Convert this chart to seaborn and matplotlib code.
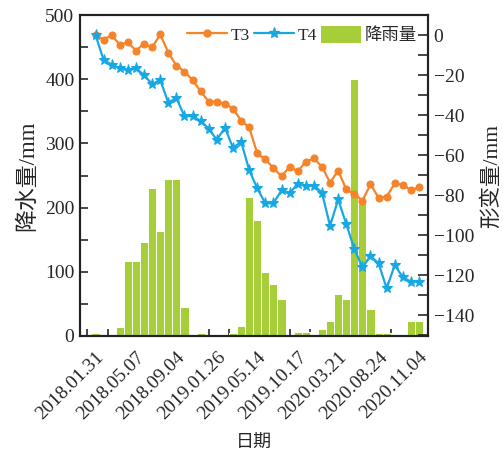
import numpy as np
import pandas as pd
import matplotlib
matplotlib.use("Agg")
import matplotlib.pyplot as plt
from matplotlib.ticker import MultipleLocator
from matplotlib.patches import Patch
from matplotlib.lines import Line2D
import seaborn as sns

# Labelled observation dates (every fifth survey)
tick_dates = ["2018.01.31", "2018.05.07", "2018.09.04", "2019.01.26", "2019.05.14",
              "2019.10.17", "2020.03.21", "2020.08.24", "2020.11.04"]

# Rainfall between surveys (mm)
rainfall = [5, 2, 2, 14, 117, 117, 146, 231, 164, 245, 245, 45,
            0, 5, 2, 1, 0, 4, 16, 216, 180, 100, 81, 57,
            0, 6, 6, 0, 11, 23, 65, 57, 400, 213, 42, 4,
            4, 0, 0, 24, 24]

# Cumulative deformation at monitoring points (mm)
t3 = [0, -2.3, -0.2, -4.8, -3.7, -7.8, -4.3, -6.2, 0.3, -8.8, -15.3,
      -18.3, -22.5, -28.2, -33.3, -33.3, -34.3, -36.8, -42.8, -46.2, -59.2,
      -62.2, -66.5, -70.7, -65.8, -68.2, -63.3, -61.7, -65.8, -73.8, -67.8,
      -77.2, -79.5, -82.8, -74.7, -81.3, -80.8, -74.2, -75.0, -77.5, -76.2]
t4 = [0, -12.5, -14.8, -16.7, -17.5, -16.7, -20.0, -24.6, -22.5, -33.8, -31.5,
      -40.7, -40.5, -43.0, -46.8, -52.5, -46.3, -56.5, -53.3, -67.5, -76.7,
      -84.2, -84.0, -77.7, -79.2, -74.3, -75.3, -75.3, -78.8, -95.5, -82.2,
      -94.5, -107.0, -116.2, -110.5, -114.2, -126.7, -115.0, -121.2, -123.3, -123.3]

n = len(rainfall)
df = pd.DataFrame({"idx": range(n), "rain": rainfall, "T3": t3, "T4": t4})

GREEN = "#A6CE39"
ORANGE = "#F5832A"
BLUE = "#17A8E3"
FS = 14        # tick labels
GFS = 12.5     # legend

sns.set_style("ticks")
plt.rcParams["font.family"] = ["Liberation Serif", "Noto Sans CJK SC"]
plt.rcParams["axes.unicode_minus"] = True

fig = plt.figure(figsize=(5.03, 4.57), dpi=100)
ax = fig.add_axes([80 / 503, 1 - 336 / 457, 348 / 503, 321 / 457])

sns.barplot(data=df, x="idx", y="rain", ax=ax, color=GREEN, saturation=1,
            width=1.0, edgecolor="white", linewidth=0.7)
ax.set_axisbelow(True)
ax.set_ylim(0, 500)
ax.set_xlim(-1.92, 41.11)
ax.yaxis.set_major_locator(MultipleLocator(100))
ax.yaxis.set_minor_locator(MultipleLocator(50))
ax.tick_params(axis="y", which="both", direction="in", length=6, width=1.2,
               labelsize=FS, pad=4)

ax.set_xticks(range(0, n, 5))
ax.set_xticklabels(tick_dates, rotation=45, ha="right", rotation_mode="anchor",
                   fontsize=FS)
ax.set_xticks(np.arange(-1, n, 2.5), minor=True)
ax.tick_params(axis="x", which="major", length=0, pad=9)
ax.tick_params(axis="x", which="minor", direction="in", length=5, width=1.2)
ax.set_xlabel("日期", fontsize=13, labelpad=9)
ax.set_ylabel("降水量/mm", fontsize=16.5, labelpad=5)

ax2 = ax.twinx()
sns.lineplot(data=df, x="idx", y="T3", ax=ax2, color=ORANGE, lw=1.6,
             marker="o", markersize=5, markeredgecolor=ORANGE, markeredgewidth=0.8)
sns.lineplot(data=df, x="idx", y="T4", ax=ax2, color=BLUE, lw=1.6,
             marker="*", markersize=8, markeredgecolor=BLUE, markeredgewidth=0.8)
ax2.set_ylim(-150.5, 10)
ax2.yaxis.set_major_locator(MultipleLocator(20))
ax2.yaxis.set_minor_locator(MultipleLocator(10))
ax2.tick_params(axis="y", which="both", direction="in", length=7, width=1.2,
                labelsize=FS, pad=4)
ax2.set_ylabel("形变量/mm", fontsize=15.5, labelpad=5)

for a in (ax, ax2):
    for sp in a.spines.values():
        sp.set_linewidth(1.5)
        sp.set_color("#222222")

handles = [
    Line2D([], [], color=ORANGE, lw=1.6, marker="o", markersize=5),
    Line2D([], [], color=BLUE, lw=1.6, marker="*", markersize=8),
    Patch(facecolor=GREEN, edgecolor="none"),
]
leg = ax2.legend(handles, ["T3", "T4", "降雨量"], loc="center right",
                 bbox_to_anchor=(417 / 503, 1 - 35 / 457),
                 bbox_transform=fig.transFigure, ncol=3, frameon=False,
                 fontsize=GFS, handlelength=2.3, handleheight=1.1,
                 handletextpad=0.2, columnspacing=0.25, borderaxespad=0,
                 borderpad=0)

fig.savefig("out.png", dpi=100)
